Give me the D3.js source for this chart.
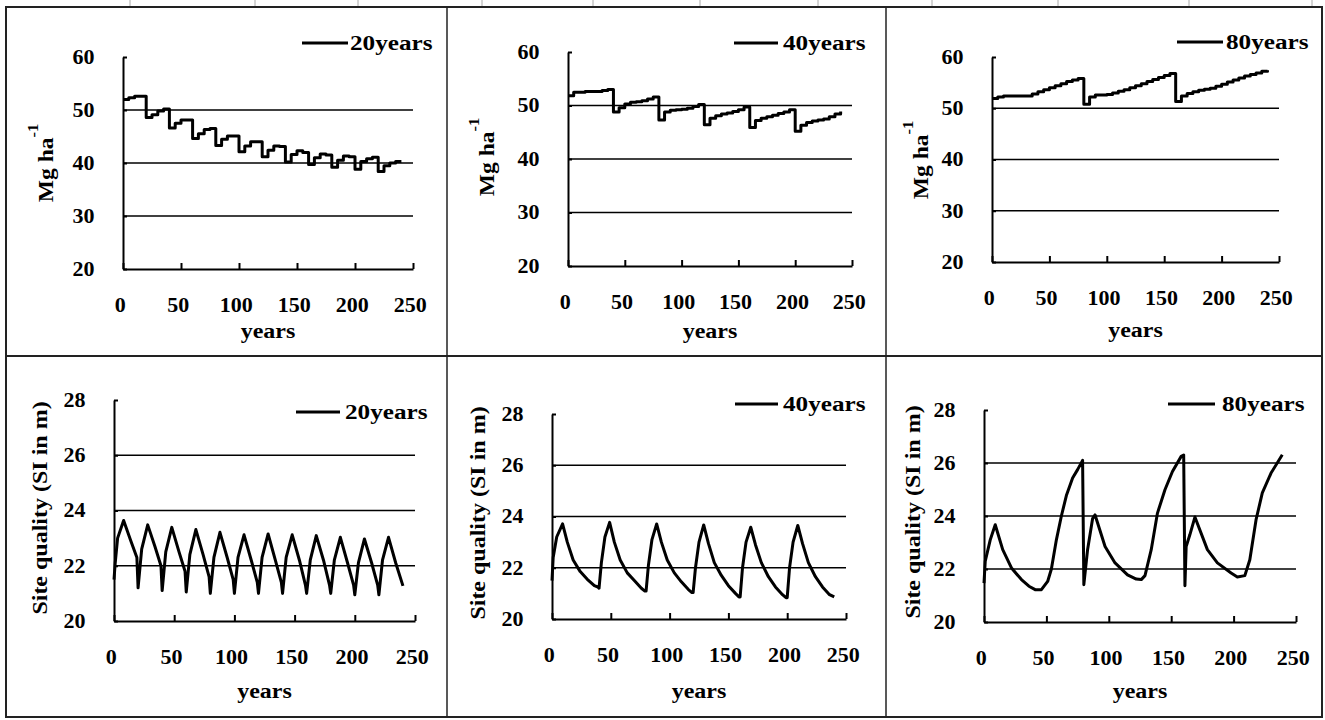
<!DOCTYPE html>
<html>
<head>
<meta charset="utf-8">
<script src="https://cdn.jsdelivr.net/npm/d3@7"></script>
<style>
  body { margin: 0; background: #fff; }
  svg { display: block; }
  svg text { font-family: 'Times New Roman', 'Liberation Serif', 'DejaVu Serif', serif; font-weight: bold; }
</style>
</head>
<body>
<div id="chart"></div>
<script>
// ---- data ----
const xTickValues = [0, 50, 100, 150, 200, 250];
const biomassTicks = [20, 30, 40, 50, 60];
const siteTicks = [20, 22, 24, 26, 28];
const legendLabels = ['20years', '40years', '80years'];

// biomass (Mg ha-1), read every 5 years
const biomassYears = [0, 5, 10, 15, 20, 25, 30, 35, 40, 45, 50, 55, 60, 65, 70, 75, 80, 85, 90, 95,
  100, 105, 110, 115, 120, 125, 130, 135, 140, 145, 150, 155, 160, 165, 170, 175, 180, 185, 190, 195,
  200, 205, 210, 215, 220, 225, 230, 235, 240];
const biomass20 = [52.0, 52.3, 52.6, 52.6, 48.6, 49.1, 49.8, 50.2, 46.6, 47.5, 48.1, 48.1,
  44.6, 45.5, 46.3, 46.5, 43.3, 44.5, 45.1, 45.1, 42.1, 43.2, 44.0, 44.0,
  41.2, 42.4, 43.2, 43.1, 40.2, 41.6, 42.3, 42.0, 39.7, 41.0, 41.7, 41.5,
  39.2, 40.5, 41.3, 41.2, 38.8, 40.3, 40.8, 41.1, 38.4, 39.5, 40.0, 40.3, 40.3];
const biomass40 = [51.8, 52.5, 52.5, 52.6, 52.6, 52.6, 52.8, 53.0,
  48.8, 49.6, 50.3, 50.6, 50.7, 50.9, 51.2, 51.6,
  47.3, 48.8, 49.1, 49.2, 49.3, 49.5, 49.8, 50.2,
  46.4, 47.6, 48.1, 48.4, 48.6, 48.9, 49.2, 49.7,
  45.9, 47.2, 47.6, 47.9, 48.2, 48.5, 48.8, 49.2,
  45.2, 46.3, 46.8, 47.1, 47.3, 47.5, 47.9, 48.4, 48.9];
const biomass80 = [51.9, 52.2, 52.4, 52.4, 52.4, 52.4, 52.4, 52.8, 53.2, 53.6, 54.0, 54.4, 54.8, 55.2, 55.5, 55.8,
  50.8, 52.2, 52.6, 52.6, 52.7, 53.0, 53.3, 53.6, 54.0, 54.4, 54.8, 55.2, 55.6, 56.0, 56.4, 56.8,
  51.3, 52.4, 52.9, 53.2, 53.5, 53.7, 53.9, 54.3, 54.7, 55.1, 55.5, 55.9, 56.3, 56.6, 56.9, 57.2, 57.4];

// site quality (SI in m)
const siYears20 = [0, 1, 3, 8, 14, 19, 20, 23, 28, 34, 39, 40, 43, 48, 54, 59, 60, 63, 68, 74, 79,
  80, 83, 88, 94, 99, 100, 103, 108, 114, 119, 120, 123, 128, 134, 139, 140, 143, 148, 154, 159,
  160, 163, 168, 174, 179, 180, 183, 188, 194, 199, 200, 203, 208, 214, 219, 220, 223, 228, 234, 240];
const si20 = [21.5, 22.1, 23.0, 23.64, 22.9, 22.3, 21.2, 22.6, 23.48, 22.7, 22.0, 21.1, 22.5, 23.39, 22.5, 21.8,
  21.05, 22.4, 23.31, 22.4, 21.6, 21.0, 22.3, 23.21, 22.3, 21.5, 21.0, 22.3, 23.12, 22.2, 21.4,
  21.0, 22.3, 23.15, 22.2, 21.4, 21.0, 22.3, 23.12, 22.2, 21.3, 21.0, 22.2, 23.09, 22.2, 21.3,
  21.0, 22.2, 23.03, 22.1, 21.3, 20.95, 22.1, 22.97, 22.1, 21.3, 20.95, 22.2, 23.03, 22.1, 21.27];
const siYears40 = [0, 1, 4, 9, 13, 18, 24, 30, 36, 39, 40, 42, 45, 49, 53, 58, 64, 70, 76, 79,
  80, 82, 85, 89, 93, 98, 104, 110, 116, 119, 120, 122, 125, 129, 133, 138, 144, 150, 156, 159,
  160, 162, 165, 169, 173, 178, 184, 190, 196, 199, 200, 202, 205, 209, 213, 218, 224, 230, 236, 240];
const si40 = [21.5, 22.4, 23.2, 23.71, 23.0, 22.3, 21.85, 21.55, 21.3, 21.25,
  21.2, 22.2, 23.2, 23.77, 23.0, 22.3, 21.8, 21.5, 21.2, 21.09,
  21.09, 22.1, 23.1, 23.71, 23.0, 22.3, 21.8, 21.45, 21.15, 21.03,
  21.03, 22.0, 23.0, 23.67, 22.95, 22.2, 21.7, 21.3, 21.0, 20.86,
  20.86, 22.0, 23.0, 23.58, 22.9, 22.2, 21.65, 21.25, 20.95, 20.83,
  20.83, 22.0, 23.0, 23.65, 22.95, 22.2, 21.65, 21.25, 20.95, 20.86];
const siYears80 = [0, 1, 5, 9, 15, 22, 30, 36, 41, 46, 51, 54, 58, 62, 66, 71, 75, 79,
  80, 83, 87, 89, 97, 105, 115, 122, 126, 129, 134, 139, 145, 151, 158, 160,
  161, 162, 165, 169, 179, 187, 198, 203, 209, 213, 218, 223, 230, 239];
const si80 = [21.47, 22.3, 23.1, 23.67, 22.73, 22.04, 21.6, 21.35, 21.22, 21.22, 21.53, 22.0, 23.1, 24.0, 24.77, 25.43, 25.75, 26.1,
  21.41, 22.73, 23.9, 24.04, 22.85, 22.23, 21.78, 21.62, 21.6, 21.75, 22.73, 24.11, 24.99, 25.68, 26.25, 26.3,
  21.37, 22.85, 23.3, 23.96, 22.73, 22.23, 21.85, 21.7, 21.75, 22.35, 23.86, 24.87, 25.62, 26.31];

// ---- layout ----
const W = 1325, H = 720;

const panels = [
  { years: biomassYears, values: biomass20, name: legendLabels[0], yTicks: biomassTicks, title: 'mg', step: true,
    left: 123, right: 413, bottom: 269, top: 57, leg: [302, 348, 43, 350], titleX: 53, titleY: 163, xTitleY: 338 },
  { years: biomassYears, values: biomass40, name: legendLabels[1], yTicks: biomassTicks, title: 'mg', step: true,
    left: 568, right: 852, bottom: 266, top: 52, leg: [734, 778, 43, 783], titleX: 494, titleY: 157, xTitleY: 338 },
  { years: biomassYears, values: biomass80, name: legendLabels[2], yTicks: biomassTicks, title: 'mg', step: true,
    left: 992, right: 1279, bottom: 262, top: 57, leg: [1177, 1223, 42, 1226], titleX: 928, titleY: 160, xTitleY: 337 },
  { years: siYears20, values: si20, name: legendLabels[0], yTicks: siteTicks, title: 'si', step: false,
    left: 114, right: 415, bottom: 621, top: 400, leg: [296, 340, 412, 345], titleX: 47, titleY: 508, xTitleY: 698 },
  { years: siYears40, values: si40, name: legendLabels[1], yTicks: siteTicks, title: 'si', step: false,
    left: 552, right: 846, bottom: 619, top: 414, leg: [735, 778, 404, 783], titleX: 485, titleY: 513, xTitleY: 698 },
  { years: siYears80, values: si80, name: legendLabels[2], yTicks: siteTicks, title: 'si', step: false,
    left: 984, right: 1296, bottom: 622, top: 410, leg: [1168, 1215, 404, 1222], titleX: 920, titleY: 512, xTitleY: 698 }
];

// faint ruler marks above the table (scan artefact of the page)
const rulerMarks = [130, 255, 358, 482, 593, 700, 818, 932, 1058, 1189, 1312];

const svg = d3.select('#chart').append('svg')
  .attr('width', W)
  .attr('height', H);

svg.selectAll('line.ruler').data(rulerMarks).join('line')
  .attr('class', 'ruler')
  .attr('x1', d => d).attr('x2', d => d)
  .attr('y1', 0).attr('y2', 6)
  .attr('stroke', '#aaa').attr('stroke-width', 1);

// table frame around the six charts
const frame = svg.append('g').attr('stroke', '#222').attr('fill', 'none');
frame.append('rect').attr('x', 6).attr('y', 7).attr('width', 1316).attr('height', 710).attr('stroke-width', 2);
frame.append('line').attr('x1', 6).attr('x2', 1322).attr('y1', 356).attr('y2', 356).attr('stroke-width', 2);
frame.append('line').attr('x1', 447).attr('x2', 447).attr('y1', 7).attr('y2', 717).attr('stroke-width', 1.5);
frame.append('line').attr('x1', 886).attr('x2', 886).attr('y1', 7).attr('y2', 717).attr('stroke-width', 1.5);

// stretched text helper (original glyphs are wider than Times)
function stretchText(parent, x, y, str, opts) {
  const o = Object.assign({ size: 20, sx: 1.2, rotate: 0, anchor: 'middle' }, opts);
  const g = parent.append('g')
    .attr('transform', `translate(${x},${y}) rotate(${o.rotate}) scale(${o.sx},1)`);
  return g.append('text')
    .attr('text-anchor', o.anchor)
    .attr('font-size', o.size)
    .attr('fill', '#000')
    .text(str);
}

function drawPanel(p) {
  const x = d3.scaleLinear().domain([0, 250]).range([p.left, p.right]);
  const y = d3.scaleLinear().domain(d3.extent(p.yTicks)).range([p.bottom, p.top]);
  const g = svg.append('g');

  // horizontal gridlines
  g.selectAll('line.grid').data(p.yTicks.slice(1, -1)).join('line')
    .attr('class', 'grid')
    .attr('x1', p.left).attr('x2', p.right)
    .attr('y1', d => y(d)).attr('y2', d => y(d))
    .attr('stroke', '#000').attr('stroke-width', 1.6);

  // x axis, ticks pointing inward
  const xAxis = g.append('g')
    .attr('transform', `translate(0,${p.bottom})`)
    .call(d3.axisBottom(x).tickValues(xTickValues).tickSizeInner(-6).tickSizeOuter(0).tickPadding(29));
  xAxis.attr('font-family', null).attr('font-size', 20);
  xAxis.select('.domain').attr('stroke', '#000').attr('stroke-width', 2);
  xAxis.selectAll('.tick line').attr('stroke', '#000').attr('stroke-width', 2);
  xAxis.selectAll('.tick text').attr('x', -3).attr('fill', '#000').attr('transform', 'scale(1.1,1)');

  // y axis
  const yAxis = g.append('g')
    .attr('transform', `translate(${p.left},0)`)
    .call(d3.axisLeft(y).tickValues(p.yTicks).tickSizeInner(-4).tickSizeOuter(0).tickPadding(26));
  yAxis.attr('font-family', null).attr('font-size', 20);
  yAxis.select('.domain').attr('stroke', '#000').attr('stroke-width', 2);
  yAxis.selectAll('.tick line').attr('stroke', '#000').attr('stroke-width', 2);
  yAxis.selectAll('.tick text').attr('fill', '#000').attr('transform', 'scale(1.1,1)');

  // series line
  const pts = d3.zip(p.years, p.values);
  const line = d3.line()
    .x(d => x(d[0]))
    .y(d => y(d[1]))
    .curve(p.step ? d3.curveStepAfter : d3.curveLinear);
  g.append('path')
    .datum(pts)
    .attr('d', line)
    .attr('fill', 'none')
    .attr('stroke', '#000')
    .attr('stroke-width', 3)
    .attr('stroke-linejoin', 'round');

  // legend
  const [lx1, lx2, ly, tx] = p.leg;
  g.append('line')
    .attr('x1', lx1).attr('x2', lx2).attr('y1', ly).attr('y2', ly)
    .attr('stroke', '#000').attr('stroke-width', 3);
  stretchText(g, tx, ly + 7, p.name, { anchor: 'start', sx: 1.26 });

  // axis titles
  stretchText(g, (p.left + p.right) / 2, p.xTitleY, 'years', { sx: 1.2 });
  if (p.title === 'mg') {
    const t = stretchText(g, p.titleX, p.titleY, '', { rotate: -90, sx: 1.18 });
    t.append('tspan').text('Mg ha');
    t.append('tspan').attr('dy', -15).attr('font-size', 14).text('-1');
  } else {
    stretchText(g, p.titleX, p.titleY, 'Site quality (SI in m)', { rotate: -90, sx: 1.2 });
  }
}

panels.forEach(drawPanel);
</script>
</body>
</html>
